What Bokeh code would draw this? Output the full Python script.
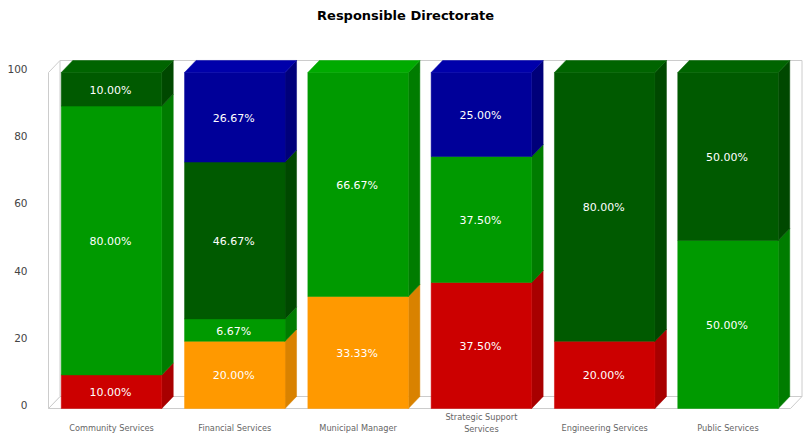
from bokeh.plotting import figure
from bokeh.models import ColumnDataSource, LinearAxis, Range1d, FixedTicker, Label
from bokeh.embed import file_html
from bokeh.resources import INLINE
from bokeh.core.properties import value

categories = ["Community Services", "Financial Services", "Municipal Manager",
              "Strategic Support\nServices", "Engineering Services", "Public Services"]
orange = [0, 20.00, 33.33, 0, 0, 0]
red = [10.00, 0, 0, 37.50, 20.00, 0]
green = [80.00, 6.67, 66.67, 37.50, 0, 50.00]
dark_green = [10.00, 46.67, 0, 0, 80.00, 50.00]
blue = [0, 26.67, 0, 25.00, 0, 0]
y_ticks = [0, 20, 40, 60, 80, 100]

series = [
    (orange, "#FF9900", "#D98200", "#FFAA22"),
    (red, "#CC0000", "#A80000", "#DD1111"),
    (green, "#009A00", "#007C00", "#00AA00"),
    (dark_green, "#005A00", "#004800", "#006400"),
    (blue, "#000099", "#00007A", "#0000AA"),
]

W, H = 808, 435
left = 44
px_per_unit = 3.36
y0_px = 408
axis_shift = 3.5
slot = 123.3
x0_px = 111
bar_w = 100.5 / slot
dx = 11.5 / slot
dy = 12 / px_per_unit

x_range = Range1d((left - x0_px) / slot, (W - x0_px) / slot)
y_range = Range1d(-(H - y0_px) / px_per_unit, y0_px / px_per_unit)

p = figure(width=W, height=H, x_range=x_range, y_range=y_range,
           output_backend="svg", toolbar_location=None,
           x_axis_location=None, y_axis_location=None,
           min_border_left=left, min_border_right=0, min_border_top=0,
           min_border_bottom=0, outline_line_color=None,
           background_fill_color="white", border_fill_color="white")
p.grid.visible = False

p.extra_y_ranges = {"axis": Range1d(-(H - y0_px + axis_shift) / px_per_unit,
                                    (y0_px - axis_shift) / px_per_unit)}
ya = LinearAxis(y_range_name="axis", ticker=FixedTicker(ticks=y_ticks))
ya.axis_line_color = None
ya.major_tick_line_color = None
ya.minor_tick_line_color = None
ya.major_label_standoff = 11
ya.major_label_text_font = "DejaVu Sans"
ya.major_label_text_font_size = "10.5px"
ya.major_label_text_color = "#444444"
p.add_layout(ya, "left")


def cat_axis(indices, location, standoff):
    xa = LinearAxis(ticker=FixedTicker(ticks=indices),
                    major_label_overrides={i: categories[i] for i in indices},
                    fixed_location=location)
    xa.axis_line_color = None
    xa.major_tick_line_color = None
    xa.minor_tick_line_color = None
    xa.major_label_standoff = standoff
    xa.major_label_text_font = "DejaVu Sans"
    xa.major_label_text_font_size = "8.2px"
    xa.major_label_text_color = "#666666"
    p.add_layout(xa, "below")


cat_axis([i for i, c in enumerate(categories) if "\n" not in c], -1.0, 5)
cat_axis([i for i, c in enumerate(categories) if "\n" in c], 0.6, 0)

wx0 = (48 - x0_px) / slot
wx1 = (790 - x0_px) / slot
wall = "#CCCCCC"
p.patch([wx0, wx1, wx1 + dx, wx0 + dx], [0, 0, dy, dy], fill_color="#FFFFFF", line_color=wall, line_width=1)
p.patch([wx0, wx0 + dx, wx0 + dx, wx0], [0, dy, 100 + dy, 100], fill_color="white", line_color=wall, line_width=1)
p.line([wx0 + dx, wx1 + dx, wx1 + dx], [100 + dy, 100 + dy, dy], line_color=wall, line_width=1)

text_x, text_y, text_s = [], [], []
n = len(categories)
base = [0.0] * n
top_seg = {}
for vals, front, side, top in series:
    for i, v in enumerate(vals):
        if v <= 0:
            continue
        b, t = base[i], base[i] + v
        l, r = i - bar_w / 2, i + bar_w / 2
        p.patch([r, r + dx, r + dx, r], [b, b + dy, t + dy, t], fill_color=side, line_color=side, line_width=0.5)
        p.quad(left=l, right=r, bottom=b, top=t, fill_color=front, line_color=front, line_width=0.5)
        base[i] = t
        top_seg[i] = top
        text_x.append(i)
        text_y.append((b + t) / 2)
        text_s.append(f"{v:.2f}%")

for i, top in top_seg.items():
    l, r = i - bar_w / 2, i + bar_w / 2
    t = base[i]
    p.patch([l, r, r + dx, l + dx], [t, t, t + dy, t + dy], fill_color=top, line_color=top, line_width=0.5)

src = ColumnDataSource(dict(x=text_x, y=text_y, s=text_s))
p.text(x="x", y="y", text="s", source=src, x_offset=-1, y_offset=1, text_color="#FFFFFF",
       text_font=value("DejaVu Sans"), text_font_size="11px",
       text_align="center", text_baseline="middle")

p.add_layout(Label(x=(405 - x0_px) / slot, y=(y0_px - 15) / px_per_unit,
                   text="Responsible Directorate", text_font="DejaVu Sans",
                   text_font_size="13px", text_font_style="bold", text_color="#000000",
                   text_align="center", text_baseline="middle"))

open("out.html", "w").write(file_html(p, INLINE))
